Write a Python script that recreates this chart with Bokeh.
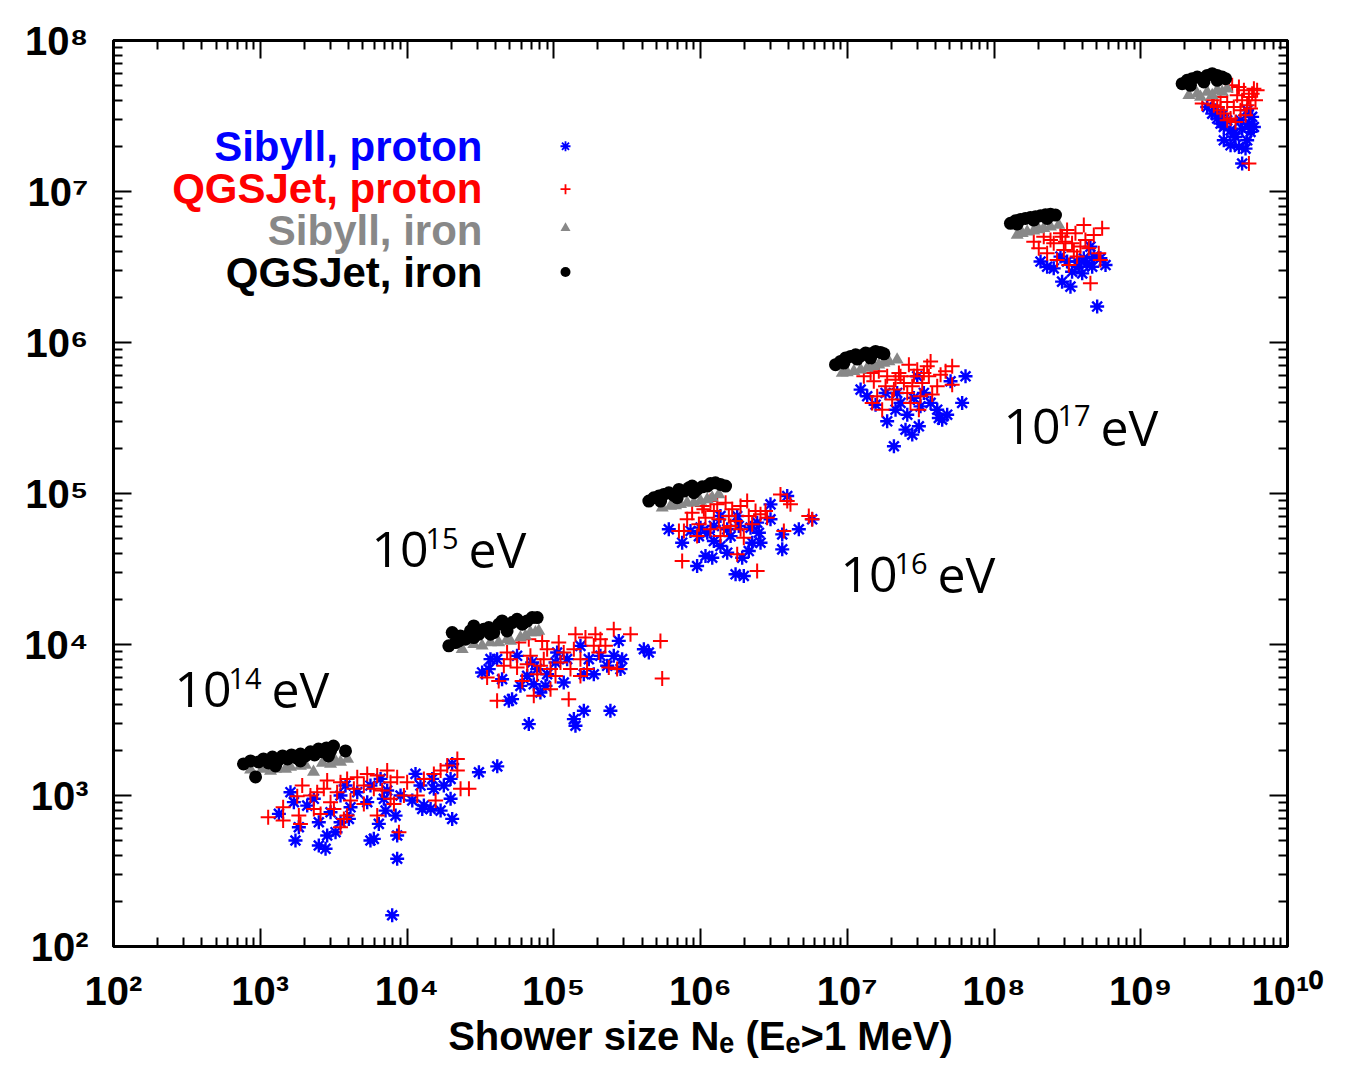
import numpy as np
from bokeh.plotting import figure
from bokeh.models import LogAxis, FixedTicker, Label
from bokeh.embed import file_html
from bokeh.resources import INLINE

# ---- data: (log10 Ne, log10 Nmu) ----
# Sibyll, proton (blue asterisks)
sib_p_14 = [(3.206,3.022),(3.127,2.878),(3.229,2.956),(3.263,2.790),(3.240,2.702),(3.399,2.823),(3.399,2.669),
            (3.445,2.647),(3.456,2.735),(3.513,2.757),(3.547,2.823),(3.604,2.845),(3.615,2.922),(3.479,2.889),
            (3.547,3.000),(3.581,3.066),(3.661,3.022),(3.729,2.956),(3.751,2.702),(3.774,2.713),(3.808,2.812),
            (3.854,2.900),(3.922,2.867),(3.933,2.735),(3.933,2.581),(3.842,2.978),(3.820,3.110),(3.751,3.066),
            (3.865,3.033),(3.956,3.000),(4.036,2.967),(4.058,3.143),(4.092,3.066),(4.115,2.934),(4.104,2.911),
            (4.161,2.911),(4.172,3.110),(4.183,3.044),(4.229,2.900),(4.251,3.066),(4.297,2.978),(4.308,2.845),
            (4.297,3.110),(4.308,3.209),(4.490,3.154),(4.615,3.193),(3.899,2.207),(3.320,2.933),(3.365,2.978)]
sib_p_15 = [(4.512,3.815),(4.569,3.903),(4.557,3.837),(4.648,3.770),(4.694,3.627),(4.716,3.638),(4.830,3.473),
            (4.750,3.925),(4.819,3.792),(4.864,3.737),(4.909,3.682),(4.944,3.726),(4.955,3.803),(5.012,3.881),
            (5.068,3.748),(5.091,3.903),(5.137,3.506),(5.148,3.462),(5.205,3.561),(5.205,3.803),(5.239,3.903),
            (5.273,3.803),(5.318,3.925),(5.364,3.859),(5.386,3.561),(5.409,3.925),(5.443,4.024),(5.466,3.903),
            (5.455,3.837),(5.614,3.969),(5.648,3.947),(4.853,3.881),(5.023,3.947),(5.182,3.991),(4.614,3.903),
            (4.773,3.726),(4.887,3.837)]
sib_p_16 = [(5.784,4.763),(5.875,4.674),(5.977,4.520),(6.034,4.586),(6.080,4.575),(5.989,4.718),(6.046,4.740),
            (6.091,4.685),(6.136,4.652),(6.182,4.608),(6.205,4.718),(6.239,4.465),(6.295,4.454),(6.284,4.575),
            (6.329,4.619),(6.352,4.674),(6.398,4.740),(6.409,4.674),(6.341,4.774),(6.261,4.785),(6.477,4.928),
            (6.477,4.829),(6.557,4.729),(6.557,4.630),(6.591,4.983),(6.670,4.763),(6.761,4.829),(6.182,4.763),
            (6.091,4.785),(6.000,4.774),(5.932,4.752),(6.136,4.851),(6.250,4.851),(6.386,4.807)]
sib_p_17 = [(7.091,5.688),(7.136,5.644),(7.193,5.588),(7.272,5.478),(7.329,5.555),(7.397,5.423),(7.443,5.390),
            (7.488,5.445),(7.409,5.522),(7.363,5.600),(7.454,5.633),(7.499,5.577),(7.613,5.555),(7.624,5.500),
            (7.647,5.489),(7.681,5.522),(7.783,5.600),(7.704,5.743),(7.806,5.776),(7.318,5.313),(7.261,5.666),
            (7.340,5.666),(7.522,5.666),(7.477,5.776),(7.568,5.600)]
sib_p_18 = [(8.317,6.536),(8.362,6.502),(8.407,6.491),(8.464,6.403),(8.521,6.370),(8.532,6.469),(8.578,6.502),
            (8.612,6.558),(8.657,6.635),(8.669,6.502),(8.680,6.569),(8.725,6.558),(8.760,6.513),(8.703,6.238),
            (8.601,6.458),(8.498,6.536),(8.635,6.525),(8.453,6.569),(8.566,6.536)]
sib_p_19 = [(9.453,7.560),(9.487,7.516),(9.521,7.483),(9.544,7.450),(9.566,7.427),(9.566,7.339),(9.612,7.306),
            (9.634,7.383),(9.669,7.295),(9.714,7.284),(9.691,7.416),(9.725,7.339),(9.737,7.450),(9.748,7.395),
            (9.759,7.494),(9.771,7.427),(9.725,7.538),(9.680,7.472),(9.612,7.405),(9.589,7.472),(9.691,7.185),
            (9.646,7.361),(9.555,7.505),(9.509,7.538)]

# QGSJet, proton (red crosses)
qgs_p_14 = [(3.054,2.856),(3.156,2.922),(3.156,2.834),(3.263,2.867),(3.274,2.812),(3.286,3.066),(3.252,2.995),
            (3.342,3.000),(3.433,3.044),(3.456,3.099),(3.547,3.088),(3.592,3.110),(3.661,3.121),(3.729,3.143),
            (3.797,3.132),(3.865,3.165),(3.888,3.088),(3.933,3.121),(4.001,3.088),(3.979,3.000),(3.911,2.944),
            (3.888,2.978),(3.797,2.867),(3.706,2.944),(3.592,2.867),(3.547,2.790),(3.570,2.845),(3.479,2.955),
            (3.411,2.878),(3.365,2.911),(3.524,3.022),(3.638,3.044),(3.706,3.066),(3.774,3.044),(3.831,3.033),
            (4.115,3.110),(4.183,3.143),(4.229,3.165),(4.274,3.198),(4.343,3.242),(4.343,3.165),(4.365,3.044),
            (4.422,3.044),(4.195,2.967),(3.945,2.757),(4.070,3.000),(3.388,3.022),(3.502,2.911),(3.615,2.967)]
qgs_p_15 = [(4.546,3.781),(4.625,3.759),(4.614,3.627),(4.682,3.947),(4.705,3.903),(4.762,4.013),(4.750,3.848),
            (4.785,3.759),(4.830,4.035),(4.841,3.925),(4.864,3.660),(4.887,3.803),(4.921,4.024),(4.932,3.903),
            (4.955,3.969),(4.978,3.837),(5.012,3.792),(5.034,4.013),(5.068,3.947),(5.102,3.638),(5.114,3.837),
            (5.148,4.068),(5.137,3.969),(5.182,3.903),(5.216,4.046),(5.227,3.837),(5.273,3.991),(5.284,4.068),
            (5.307,3.947),(5.318,4.035),(5.352,3.991),(5.375,3.848),(5.409,4.101),(5.432,3.837),(5.523,4.068),
            (5.727,4.024),(5.739,3.775),(5.046,3.881),(4.819,3.870),(4.910,3.859),(5.182,3.792),(4.660,3.859),
            (4.978,3.704)]
qgs_p_16 = [(5.853,4.752),(5.887,4.752),(5.909,4.829),(5.875,4.553),(5.943,4.873),(5.989,4.796),(6.012,4.917),
            (6.034,4.840),(6.068,4.950),(6.091,4.884),(6.114,4.928),(6.125,4.829),(6.136,4.718),(6.159,4.774),
            (6.171,4.939),(6.193,4.851),(6.216,4.895),(6.239,4.818),(6.250,4.597),(6.273,4.917),(6.295,4.707),
            (6.318,4.950),(6.329,4.851),(6.352,4.796),(6.375,4.884),(6.386,4.487),(6.409,4.862),(6.443,4.884),
            (6.454,4.840),(6.545,4.994),(6.591,4.950),(6.613,4.928),(6.738,4.851),(6.761,4.829),(6.568,4.752),
            (5.977,4.718),(6.068,4.763),(6.273,4.763),(6.205,4.785),(6.023,4.895)]
qgs_p_17 = [(7.113,5.776),(7.159,5.798),(7.170,5.600),(7.181,5.743),(7.215,5.809),(7.238,5.555),(7.261,5.710),
            (7.272,5.776),(7.306,5.622),(7.329,5.754),(7.352,5.798),(7.386,5.732),(7.420,5.853),(7.431,5.600),
            (7.443,5.710),(7.454,5.776),(7.477,5.820),(7.488,5.555),(7.499,5.644),(7.511,5.732),(7.545,5.842),
            (7.556,5.776),(7.568,5.875),(7.579,5.655),(7.613,5.710),(7.636,5.787),(7.670,5.809),(7.715,5.842),
            (7.715,5.721),(7.204,5.644),(7.318,5.688),(7.409,5.666),(7.363,5.776),(7.522,5.798)]
qgs_p_18 = [(8.271,6.668),(8.305,6.624),(8.339,6.701),(8.362,6.591),(8.407,6.657),(8.430,6.547),(8.464,6.701),
            (8.476,6.613),(8.498,6.745),(8.510,6.513),(8.532,6.657),(8.555,6.723),(8.566,6.569),(8.589,6.635),
            (8.612,6.778),(8.623,6.679),(8.657,6.392),(8.680,6.712),(8.714,6.591),(8.725,6.547),(8.737,6.756),
            (8.385,6.679),(8.487,6.668),(8.544,6.602),(8.646,6.624),(8.453,6.723)]
qgs_p_19 = [(9.419,7.582),(9.487,7.604),(9.521,7.560),(9.544,7.626),(9.566,7.516),(9.589,7.593),(9.612,7.483),
            (9.623,7.703),(9.634,7.560),(9.646,7.461),(9.657,7.637),(9.669,7.692),(9.680,7.538),(9.691,7.604),
            (9.703,7.670),(9.714,7.505),(9.725,7.571),(9.737,7.626),(9.748,7.549),(9.759,7.648),(9.771,7.681),
            (9.782,7.604),(9.793,7.670),(9.737,7.185),(9.589,7.472),(9.544,7.538),(9.498,7.571)]

# Sibyll, iron (grey triangles)
sib_fe_14 = [(2.934,3.170),(3.015,3.176),(3.104,3.176),(3.206,3.189),(3.274,3.196),(3.363,3.156),(3.424,3.216),
             (3.513,3.229),(3.595,3.242),(3.070,3.163),(3.172,3.176),(3.308,3.202),(3.479,3.209),(3.547,3.222)]
sib_fe_15 = [(4.376,3.969),(4.512,3.991),(4.625,4.013),(4.705,4.024),(4.773,4.046),(4.841,4.079),(4.898,4.090),
             (4.455,4.002),(4.569,4.013),(4.682,4.035),(4.807,4.057),(4.875,4.079)]
sib_fe_16 = [(5.739,4.906),(5.830,4.921),(5.909,4.939),(6.000,4.950),(6.080,4.972),(6.125,4.994),(5.796,4.917),
             (5.955,4.939),(6.046,4.961),(5.864,4.928)]
sib_fe_17 = [(6.966,5.798),(7.045,5.809),(7.136,5.831),(7.215,5.853),(7.284,5.875),(7.340,5.886),(7.091,5.820),
             (7.250,5.864),(7.000,5.802),(7.182,5.842)]
sib_fe_18 = [(8.158,6.712),(8.226,6.734),(8.305,6.749),(8.385,6.767),(8.441,6.778),(8.192,6.723),(8.339,6.756),
             (8.271,6.740)]
sib_fe_19 = [(9.328,7.637),(9.385,7.648),(9.453,7.659),(9.521,7.670),(9.589,7.681),(9.407,7.626),(9.487,7.637),
             (9.555,7.659)]

# QGSJet, iron (black circles)
qgs_fe_14 = [(2.886,3.209),(2.934,3.229),(2.968,3.123),(2.988,3.222),(3.022,3.242),(3.056,3.216),(3.083,3.255),
             (3.118,3.229),(3.152,3.262),(3.186,3.242),(3.213,3.269),(3.247,3.249),(3.274,3.275),(3.308,3.262),
             (3.342,3.289),(3.370,3.269),(3.397,3.308),(3.424,3.289),(3.451,3.315),(3.479,3.295),(3.499,3.328),
             (3.465,3.262),(3.274,3.229),(3.104,3.196),(3.581,3.295)]
qgs_fe_15 = [(4.285,3.991),(4.308,4.079),(4.330,4.013),(4.364,4.057),(4.398,4.035),(4.432,4.090),(4.455,4.123),
             (4.489,4.068),(4.523,4.101),(4.557,4.112),(4.591,4.079),(4.625,4.134),(4.648,4.156),(4.682,4.112),
             (4.716,4.145),(4.750,4.167),(4.785,4.134),(4.819,4.156),(4.853,4.178),(4.887,4.178),(4.455,4.046),
             (4.569,4.068),(4.682,4.090),(4.796,4.145),(4.353,4.024)]
qgs_fe_16 = [(5.648,4.950),(5.682,4.972),(5.716,4.983),(5.750,4.994),(5.784,5.005),(5.818,4.987),(5.853,5.027),
             (5.887,5.016),(5.921,5.038),(5.943,5.049),(5.977,5.027),(6.012,5.044),(6.046,5.049),(6.068,5.066),
             (6.102,5.071),(6.136,5.060),(6.171,5.049),(5.728,4.950),(5.841,4.972),(5.955,5.005)]
qgs_fe_17 = [(6.920,5.853),(6.954,5.875),(6.988,5.897),(7.022,5.908),(7.057,5.919),(7.091,5.912),(7.125,5.930),
             (7.159,5.925),(7.193,5.941),(7.227,5.934),(7.250,5.925),(6.977,5.864),(7.068,5.890),(7.159,5.897)]
qgs_fe_18 = [(8.112,6.789),(8.146,6.806),(8.180,6.815),(8.214,6.822),(8.248,6.828),(8.283,6.833),(8.317,6.839),
             (8.351,6.846),(8.385,6.850),(8.419,6.844),(8.158,6.784),(8.271,6.811),(8.362,6.822)]
qgs_fe_19 = [(9.282,7.714),(9.316,7.736),(9.350,7.747),(9.385,7.758),(9.419,7.747),(9.453,7.769),(9.487,7.780),
             (9.521,7.769),(9.555,7.758),(9.578,7.747),(9.339,7.703),(9.430,7.725),(9.521,7.736)]

series_names = ["Sibyll, proton", "QGSJet, proton", "Sibyll, iron", "QGSJet, iron"]
series_colors = ["#0000FF", "#FF0000", "#888888", "#000000"]

energy_exponents = ["14", "15", "16", "17"]
# anchor (left edge / baseline of the "10") in screen pixels of the figure
energy_label_px = [174, 371, 840, 1003]
energy_label_py = [705, 565, 590, 442]

x_tick_exps = list(range(2, 11))
y_tick_exps = list(range(2, 9))
x_axis_title = "Shower size Nₑ (Eₑ>1 MeV)"
sup = str.maketrans("0123456789", "⁰¹²³⁴⁵⁶⁷⁸⁹")

# ---- figure geometry ----
W, H = 1343, 1060
FL, FT, FR, FB = 113, 40, 1287, 948          # frame edges (pixels)
XPD = (FR - FL) / 8.0                          # pixels per decade, x
YPD = (FB - FT) / 6.0                          # pixels per decade, y


def X(px):
    return 10 ** (2 + (px - FL) / XPD)


def Y(py):
    return 10 ** (8 - (py - FT) / YPD)


p = figure(width=W, height=H, x_axis_type="log", y_axis_type="log",
           x_range=(1e2, 1e10), y_range=(1e2, 1e8),
           output_backend="svg", toolbar_location=None,
           min_border_left=FL, min_border_right=W - FR, min_border_top=FT, min_border_bottom=H - FB)
p.grid.visible = False
p.outline_line_color = "black"
p.outline_line_width = 3
p.background_fill_color = "white"
p.border_fill_color = "white"

bottom_ax = p.below[0]
left_ax = p.left[0]

x_major = [10.0 ** e for e in x_tick_exps]
y_major = [10.0 ** e for e in y_tick_exps]
x_minor = [k * 10.0 ** e for e in x_tick_exps[:-1] for k in range(2, 10)]
y_minor = [k * 10.0 ** e for e in y_tick_exps[:-1] for k in range(2, 10)]

FONT = "Liberation Sans"


def style_axis(ax, major, minor):
    ax.ticker = FixedTicker(ticks=major, minor_ticks=minor)
    ax.axis_line_width = 3
    ax.axis_line_color = "black"
    ax.major_tick_in = 18
    ax.major_tick_out = 0
    ax.minor_tick_in = 9
    ax.minor_tick_out = 0
    ax.major_tick_line_width = 2
    ax.minor_tick_line_width = 2
    ax.major_tick_line_color = "black"
    ax.minor_tick_line_color = "black"


top_ax = LogAxis()
right_ax = LogAxis()
for ax, major, minor in ((bottom_ax, x_major, x_minor), (left_ax, y_major, y_minor),
                         (top_ax, x_major, x_minor), (right_ax, y_major, y_minor)):
    style_axis(ax, major, minor)

for ax in (top_ax, right_ax):
    ax.major_label_text_color = None
    ax.major_label_text_font_size = "8px"
    ax.major_label_standoff = 0
p.add_layout(top_ax, "above")
p.add_layout(right_ax, "right")

x_labels = {10.0 ** e: "10" + str(e).translate(sup) for e in x_tick_exps}
y_labels = {10.0 ** e: "10" + str(e).translate(sup) for e in y_tick_exps}
for ax, labels in ((bottom_ax, x_labels), (left_ax, y_labels)):
    ax.major_label_overrides = labels
    ax.major_label_text_font = FONT
    ax.major_label_text_font_style = "bold"
    ax.major_label_text_font_size = "40px"
    ax.major_label_text_color = "black"
bottom_ax.major_label_standoff = 22
left_ax.major_label_standoff = 25

bottom_ax.axis_label = x_axis_title
bottom_ax.axis_label_text_font = FONT
bottom_ax.axis_label_text_font_style = "bold"
bottom_ax.axis_label_text_font_size = "40px"
bottom_ax.axis_label_text_color = "black"
bottom_ax.axis_label_standoff = -2

BL = 0.30  # baseline correction (fraction of font size)


def label(px, py, text, size, align="left", color="black", font=FONT, style="bold"):
    p.add_layout(Label(x=X(px), y=Y(py - BL * size), text=text, text_align=align, text_baseline="alphabetic",
                       text_font=font, text_font_style=style, text_font_size=f"{size}px", text_color=color))


# ---- scatter series ----
def unpack(*groups):
    pts = [pt for g in groups for pt in g]
    xs = np.power(10.0, [pt[0] for pt in pts])
    ys = np.power(10.0, [pt[1] for pt in pts])
    return xs, ys


bx, by = unpack(sib_p_14, sib_p_15, sib_p_16, sib_p_17, sib_p_18, sib_p_19)
rx, ry = unpack(qgs_p_14, qgs_p_15, qgs_p_16, qgs_p_17, qgs_p_18, qgs_p_19)
gx, gy = unpack(sib_fe_14, sib_fe_15, sib_fe_16, sib_fe_17, sib_fe_18, sib_fe_19)
kx, ky = unpack(qgs_fe_14, qgs_fe_15, qgs_fe_16, qgs_fe_17, qgs_fe_18, qgs_fe_19)

p.scatter(bx, by, marker="asterisk", size=14, line_color=series_colors[0], line_width=2.4)
p.scatter(rx, ry, marker="cross", size=15, line_color=series_colors[1], line_width=2)
p.scatter(gx, gy, marker="triangle", size=13, fill_color=series_colors[2], line_color=None)
p.scatter(kx, ky, marker="circle", size=13, fill_color=series_colors[3], line_color=None)

# ---- legend (text left, symbol right) ----
leg_text_py = [159, 201, 243, 285]
leg_sym_py = [146, 189, 228, 272]
for name, col, ty in zip(series_names, series_colors, leg_text_py):
    label(482, ty, name, 42, align="right", color=col)
leg_markers = ["asterisk", "cross", "triangle", "circle"]
for mk, col, sy in zip(leg_markers, series_colors, leg_sym_py):
    if mk in ("asterisk", "cross"):
        p.scatter([X(565)], [Y(sy)], marker=mk, size=10, line_color=col, line_width=1.8)
    else:
        p.scatter([X(565)], [Y(sy)], marker=mk, size=10, fill_color=col, line_color=None)

# ---- energy annotations ----
for ex_, px, py in zip(energy_exponents, energy_label_px, energy_label_py):
    label(px, py, "10", 50, font="Open Sans", style="normal")
    label(px + 54, py - 17, ex_, 29, font="Open Sans", style="normal")
    label(px + 97, py, "eV", 50, font="Open Sans", style="normal")

open("out.html", "w").write(file_html(p, INLINE))
